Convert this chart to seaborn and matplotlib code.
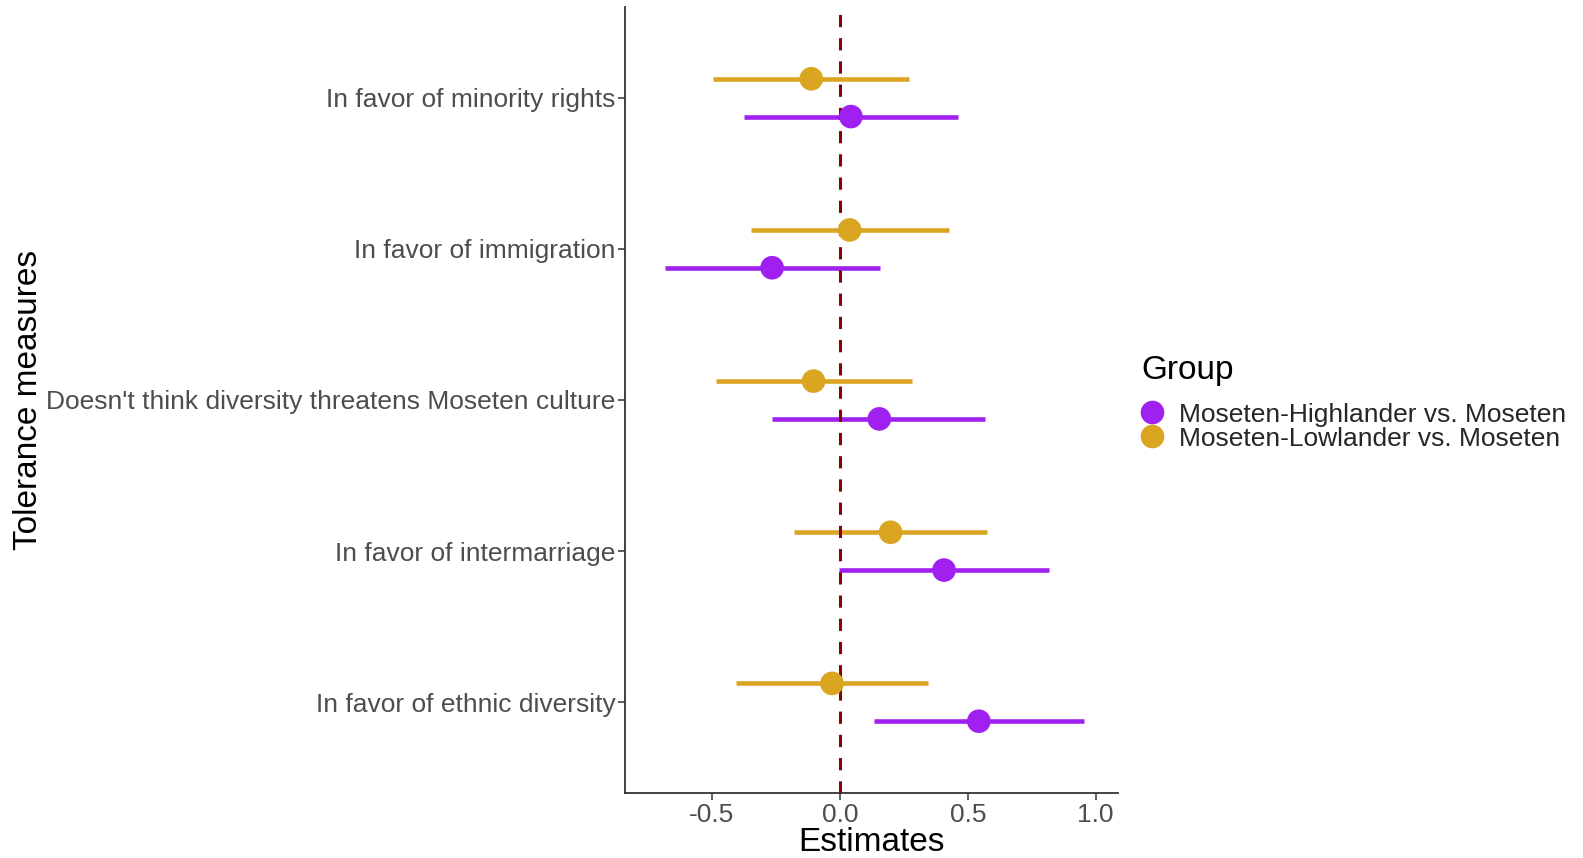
import numpy as np
import matplotlib
matplotlib.use("Agg")
import matplotlib.pyplot as plt
import pandas as pd
import seaborn as sns

# data
measures = ["In favor of minority rights",
            "In favor of immigration",
            "Doesn't think diversity threatens Moseten culture",
            "In favor of intermarriage",
            "In favor of ethnic diversity"]
groups = ["Moseten-Highlander vs. Moseten", "Moseten-Lowlander vs. Moseten"]

high_est = [0.043, -0.265, 0.154, 0.407, 0.543]
high_lo = [-0.375, -0.684, -0.265, -0.003, 0.133]
high_hi = [0.461, 0.155, 0.568, 0.817, 0.953]

low_est = [-0.112, 0.038, -0.103, 0.198, -0.031]
low_lo = [-0.495, -0.347, -0.486, -0.180, -0.408]
low_hi = [0.272, 0.425, 0.280, 0.576, 0.344]

colors = {groups[0]: "#A020F0", groups[1]: "#DAA520"}

# long table
rows = []
for i, m in enumerate(measures):
    rows.append({"measure": m, "pos": i, "group": groups[0],
                 "est": high_est[i], "lo": high_lo[i], "hi": high_hi[i]})
    rows.append({"measure": m, "pos": i, "group": groups[1],
                 "est": low_est[i], "lo": low_lo[i], "hi": low_hi[i]})
df = pd.DataFrame(rows)
# dodge: lowlander above, highlander below
dodge = {groups[0]: 0.125, groups[1]: -0.125}
df["y"] = df["pos"] + df["group"].map(dodge)

sns.set_style("white")
plt.rcParams["font.family"] = ["Liberation Sans", "DejaVu Sans"]

fig = plt.figure(figsize=(15.83, 8.58), dpi=100)
ax = fig.add_axes([625 / 1583, 1 - 793 / 858, 493 / 1583, 786 / 858])

# conf intervals
for g in groups:
    sub = df[df["group"] == g]
    ax.hlines(sub["y"], sub["lo"], sub["hi"], color=colors[g], linewidth=3.3, zorder=2)

ax.axvline(0, color="#8B0000", linestyle=(0, (4, 3.6)), linewidth=2.2, zorder=3)

sns.scatterplot(data=df, x="est", y="y", hue="group", hue_order=groups,
                palette=colors, s=290, linewidth=0, ax=ax, zorder=4)

ax.set_xlim(-0.84, 1.087)
ax.set_ylim(4.6, -0.6)
ax.set_xticks([-0.5, 0.0, 0.5, 1.0])
ax.set_xticklabels(["-0.5", "0.0", "0.5", "1.0"])
ax.set_yticks(range(len(measures)))
ax.set_yticklabels(measures)
ax.tick_params(axis="both", labelsize=19, labelcolor="#4D4D4D", length=5,
               width=1.1, color="#333333", direction="out", bottom=True, left=True, pad=2)

for s in ["top", "right"]:
    ax.spines[s].set_visible(False)
for s in ["left", "bottom"]:
    ax.spines[s].set_color("#333333")
    ax.spines[s].set_linewidth(1.3)

ax.set_xlabel("Estimates", fontsize=24, color="black", labelpad=0)
ax.set_ylabel("Tolerance measures", fontsize=24, color="black")
ax.yaxis.set_label_coords(-(625 - 44) / 493, 0.5)

handles, labels = ax.get_legend_handles_labels()
ax.legend(handles=handles, labels=labels, frameon=False,
          fontsize=19, loc="upper left",
          bbox_to_anchor=(1128 / 1583, 1 - 392 / 858), bbox_transform=fig.transFigure,
          markerscale=1.0, handlelength=1.0, handletextpad=0.55, labelspacing=0.0,
          borderaxespad=0)
fig.text(1141 / 1583, 1 - 371 / 858, "Group", fontsize=24, color="black",
         ha="left", va="center")

fig.savefig("out.png", dpi=100)
